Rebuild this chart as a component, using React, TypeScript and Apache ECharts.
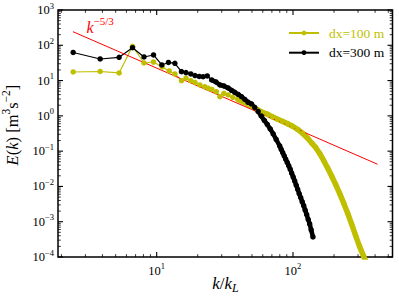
import React, { useEffect, useRef } from 'react';
import * as echarts from 'echarts';

// ---- data ----
const kBlack = [2.44, 3.85, 5.30, 6.65, 8.07, 9.48, 10.9, 12.2, 13.6, 15.2, 16.4, 17.8, 19.1, 20.5, 21.9, 23.5, 25.3, 27.2, 29.1, 31.1, 33.4, 35.4, 37.4, 39.6, 41.9, 44.3, 46.8, 49.6, 52.4, 55.5, 58.5, 61.6, 64.8, 68.1, 71.6, 75.3, 79.9, 81.9, 84.0, 86.2, 88.4, 90.7, 93.0, 95.4, 97.8, 100.3, 102.9, 105.5, 108.2, 111.0, 113.9, 116.8, 119.8, 122.8, 126.0, 129.2, 132.5, 135.9, 140.1];
const eBlack = [62.5, 40.9, 45.7, 85.5, 46.6, 53.1, 27.7, 32.6, 30.9, 17.9, 16.9, 15.4, 13.9, 13.1, 12.9, 13.5, 10.4, 9.12, 7.50, 7.03, 6.17, 5.31, 4.66, 4.04, 3.50, 2.91, 2.43, 2.17, 1.73, 1.33, 0.993, 0.741, 0.570, 0.426, 0.307, 0.214, 0.140, 0.113, 0.0912, 0.0736, 0.0593, 0.0479, 0.0386, 0.0307, 0.0238, 0.0185, 0.0143, 0.0109, 0.00828, 0.00630, 0.00482, 0.00368, 0.00284, 0.00214, 0.00159, 0.00117, 0.000867, 0.000589, 0.000371];

const kYellow = [2.44, 3.85, 5.30, 6.65, 8.07, 9.48, 10.97, 12.35, 13.6, 15.2, 16.4, 17.8, 19.1, 20.75, 22.58, 23.94, 25.41, 27.41, 29.07, 31.1, 33.44, 36.2, 39.36, 42.83, 46.6, 50.7, 55.17, 60.01, 65.29, 71.03, 77.27, 84.05, 91.45, 99.49, 108.2, 117.8, 128.1, 137.1, 146.6, 156.9, 167.8, 179.5, 192.0, 205.4, 219.8, 235.1, 251.4, 268.9, 287.7, 307.7, 329.2, 352.2];
const eYellow = [17.52, 18.10, 16.42, 93.7, 31.5, 33.6, 24.3, 18.7, 15.4, 9.93, 11.8, 9.93, 8.83, 7.50, 6.72, 6.05, 5.59, 4.85, 3.50, 4.37, 3.91, 3.36, 2.91, 2.52, 2.17, 1.79, 1.47, 1.25, 1.10, 0.931, 0.801, 0.694, 0.597, 0.507, 0.412, 0.317, 0.232, 0.171, 0.127, 0.0861, 0.0545, 0.0334, 0.0198, 0.0114, 0.00633, 0.00341, 0.00177, 0.000866, 0.000409, 0.000200, 0.000107, 0.0000559];

const refK = [2.43, 417];
const refE = [243, 0.0426];

const seriesNames = ['dx=100 m', 'dx=300 m'];
const xTickValues = [10, 100];
const yTickValues = [1e-4, 1e-3, 1e-2, 1e-1, 1, 10, 100, 1000];

const X_MIN = 1.888;
const X_MAX = 537;
const Y_MIN = 1e-4;
const Y_MAX = 1e3;

const FONT = "'Liberation Serif', 'DejaVu Serif', serif";
const YELLOW = '#bfbf00';
const BLACK = '#000000';
const RED = '#ff0000';

function zip(a: number[], b: number[]) {
  return a.map((v, i) => [v, b[i]]);
}

function expLabel(v: number) {
  const lg = Math.log10(v);
  const e = Math.round(lg);
  if (Math.abs(lg - e) > 1e-6) return '';
  const es = e < 0 ? '\u2212' + -e : String(e);
  return `{b|10}{s|${es}}`;
}

function buildTicks() {
  const out: number[][] = [];
  for (let d = -1; d <= 3; d++) {
    for (let m = 1; m <= 9; m++) {
      const v = m * Math.pow(10, d);
      if (v >= X_MIN && v <= X_MAX) out.push([v, 1, 0, m === 1 ? 1 : 0]);
    }
  }
  for (let d = -4; d <= 3; d++) {
    for (let m = 1; m <= 9; m++) {
      const v = m * Math.pow(10, d);
      if (v >= Y_MIN * 0.999 && v <= Y_MAX * 1.001) out.push([10, v, 1, m === 1 ? 1 : 0]);
    }
  }
  return out;
}

const labelRich = {
  b: { fontFamily: FONT, fontSize: 12.5, color: '#000', lineHeight: 18 },
  s: { fontFamily: FONT, fontSize: 8.5, color: '#000', verticalAlign: 'top', lineHeight: 10 },
};

export default function App() {
  const ref = useRef<HTMLDivElement>(null);
  useEffect(() => {
    document.body.style.margin = '0';
    if (!ref.current) return;
    const chart = echarts.init(ref.current, null, { renderer: 'svg' });
    const yellowData = zip(kYellow, eYellow);
    const blackData = zip(kBlack, eBlack);
    const yellowFillStart = kYellow.findIndex((k) => k >= 39);
    const blackFillStart = kBlack.findIndex((k) => k >= 25);

    const option: any = {
      animation: false,
      grid: { left: 58, top: 10, right: 6.5, bottom: 42, show: true, borderColor: '#000', borderWidth: 1.5, backgroundColor: 'transparent' },
      xAxis: {
        type: 'log', logBase: 10, min: X_MIN, max: X_MAX,
        axisLine: { show: false }, axisTick: { show: false }, splitLine: { show: false },
        axisLabel: {
          margin: 4.5, showMinLabel: false, showMaxLabel: false,
          formatter: (v: number) => (xTickValues.some((t) => Math.abs(t - v) / t < 1e-6) ? expLabel(v) : ''),
          rich: labelRich,
        },
      },
      yAxis: {
        type: 'log', logBase: 10, min: Y_MIN, max: Y_MAX,
        axisLine: { show: false }, axisTick: { show: false }, splitLine: { show: false },
        axisLabel: {
          margin: 4,
          formatter: (v: number) => (yTickValues.some((t) => Math.abs(t - v) / t < 1e-6) ? expLabel(v) : ''),
          rich: labelRich,
        },
      },
      legend: {
        orient: 'vertical', left: 283, top: 21, itemWidth: 30, itemHeight: 6, itemGap: 5.7,
        data: [
          { name: seriesNames[0], textStyle: { color: YELLOW } },
          { name: seriesNames[1], textStyle: { color: BLACK } },
        ],
        textStyle: { fontFamily: FONT, fontSize: 13.5, lineHeight: 14, padding: [0, 0, 0, 5] },
      },
      series: [
        {
          type: 'line', name: seriesNames[0], data: yellowData, symbol: 'circle', symbolSize: 5.5,
          itemStyle: { color: YELLOW }, lineStyle: { color: YELLOW, width: 1.2 }, silent: true,
        },
        {
          type: 'line', name: seriesNames[0], data: yellowData.slice(yellowFillStart), showSymbol: false, symbol: 'none',
          itemStyle: { color: YELLOW }, lineStyle: { color: YELLOW, width: 5.5 }, silent: true,
        },
        {
          type: 'line', name: seriesNames[1], data: blackData, symbol: 'circle', symbolSize: 5.5,
          itemStyle: { color: BLACK }, lineStyle: { color: BLACK, width: 1.2 }, silent: true,
        },
        {
          type: 'line', name: seriesNames[1], data: blackData.slice(blackFillStart), showSymbol: false, symbol: 'none',
          itemStyle: { color: BLACK }, lineStyle: { color: BLACK, width: 4.5 }, silent: true,
        },
        {
          type: 'line', name: 'ref', data: zip(refK, refE), showSymbol: false, symbol: 'none',
          lineStyle: { color: RED, width: 1 }, itemStyle: { color: RED }, silent: true,
        },
        {
          type: 'custom', name: 'ticks', data: buildTicks(), silent: true, z: 5,
          renderItem: (params: any, api: any) => {
            const cs = params.coordSys;
            const kind = api.value(2);
            const major = api.value(3) === 1;
            const len = major ? 5 : 2.8;
            const lw = major ? 1.1 : 0.8;
            const st = { stroke: '#000', lineWidth: lw };
            if (kind === 0) {
              const px = api.coord([api.value(0), 1])[0];
              return {
                type: 'group', children: [
                  { type: 'line', shape: { x1: px, y1: cs.y + cs.height, x2: px, y2: cs.y + cs.height - len }, style: st },
                  { type: 'line', shape: { x1: px, y1: cs.y, x2: px, y2: cs.y + len }, style: st },
                ],
              };
            }
            const py = api.coord([10, api.value(1)])[1];
            return {
              type: 'group', children: [
                { type: 'line', shape: { x1: cs.x, y1: py, x2: cs.x + len, y2: py }, style: st },
                { type: 'line', shape: { x1: cs.x + cs.width, y1: py, x2: cs.x + cs.width - len, y2: py }, style: st },
              ],
            };
          },
        },
      ],
      graphic: [
        {
          type: 'text', x: 86.5, y: 27.5, silent: true,
          style: {
            text: '{k|k}{s|\u22125/3}', align: 'left', verticalAlign: 'middle', textAlign: 'left', textVerticalAlign: 'middle',
            rich: {
              k: { fontFamily: FONT, fontSize: 16, fontStyle: 'italic', fill: RED, lineHeight: 24 },
              s: { fontFamily: FONT, fontSize: 11, fill: RED, verticalAlign: 'top', lineHeight: 12 },
            },
          },
        },
        {
          type: 'text', x: 225.5, y: 283, silent: true,
          style: {
            text: '{i|k}{r|/}{i|k}{u|L}', align: 'center', verticalAlign: 'middle', textAlign: 'center', textVerticalAlign: 'middle',
            rich: {
              i: { fontFamily: FONT, fontSize: 17, fontStyle: 'italic', fill: '#000', lineHeight: 22 },
              r: { fontFamily: FONT, fontSize: 17, fill: '#000', lineHeight: 22 },
              u: { fontFamily: FONT, fontSize: 12, fontStyle: 'italic', fill: '#000', verticalAlign: 'bottom', lineHeight: 12 },
            },
          },
        },
        {
          type: 'text', x: 12, y: 125, rotation: Math.PI / 2, silent: true,
          style: {
            text: '{i|E}{r|(}{i|k}{r|) [m}{s|3}{r|s}{s|\u22122}{r|]}', align: 'center', verticalAlign: 'middle', textAlign: 'center', textVerticalAlign: 'middle',
            rich: {
              i: { fontFamily: FONT, fontSize: 16.5, fontStyle: 'italic', fill: '#000', lineHeight: 24 },
              r: { fontFamily: FONT, fontSize: 16.5, fill: '#000', lineHeight: 24 },
              s: { fontFamily: FONT, fontSize: 11.5, fill: '#000', verticalAlign: 'top', lineHeight: 12 },
            },
          },
        },
      ],
    };
    chart.setOption(option);
    return () => chart.dispose();
  }, []);
  return <div ref={ref} style={{ width: 399, height: 299 }} />;
}
